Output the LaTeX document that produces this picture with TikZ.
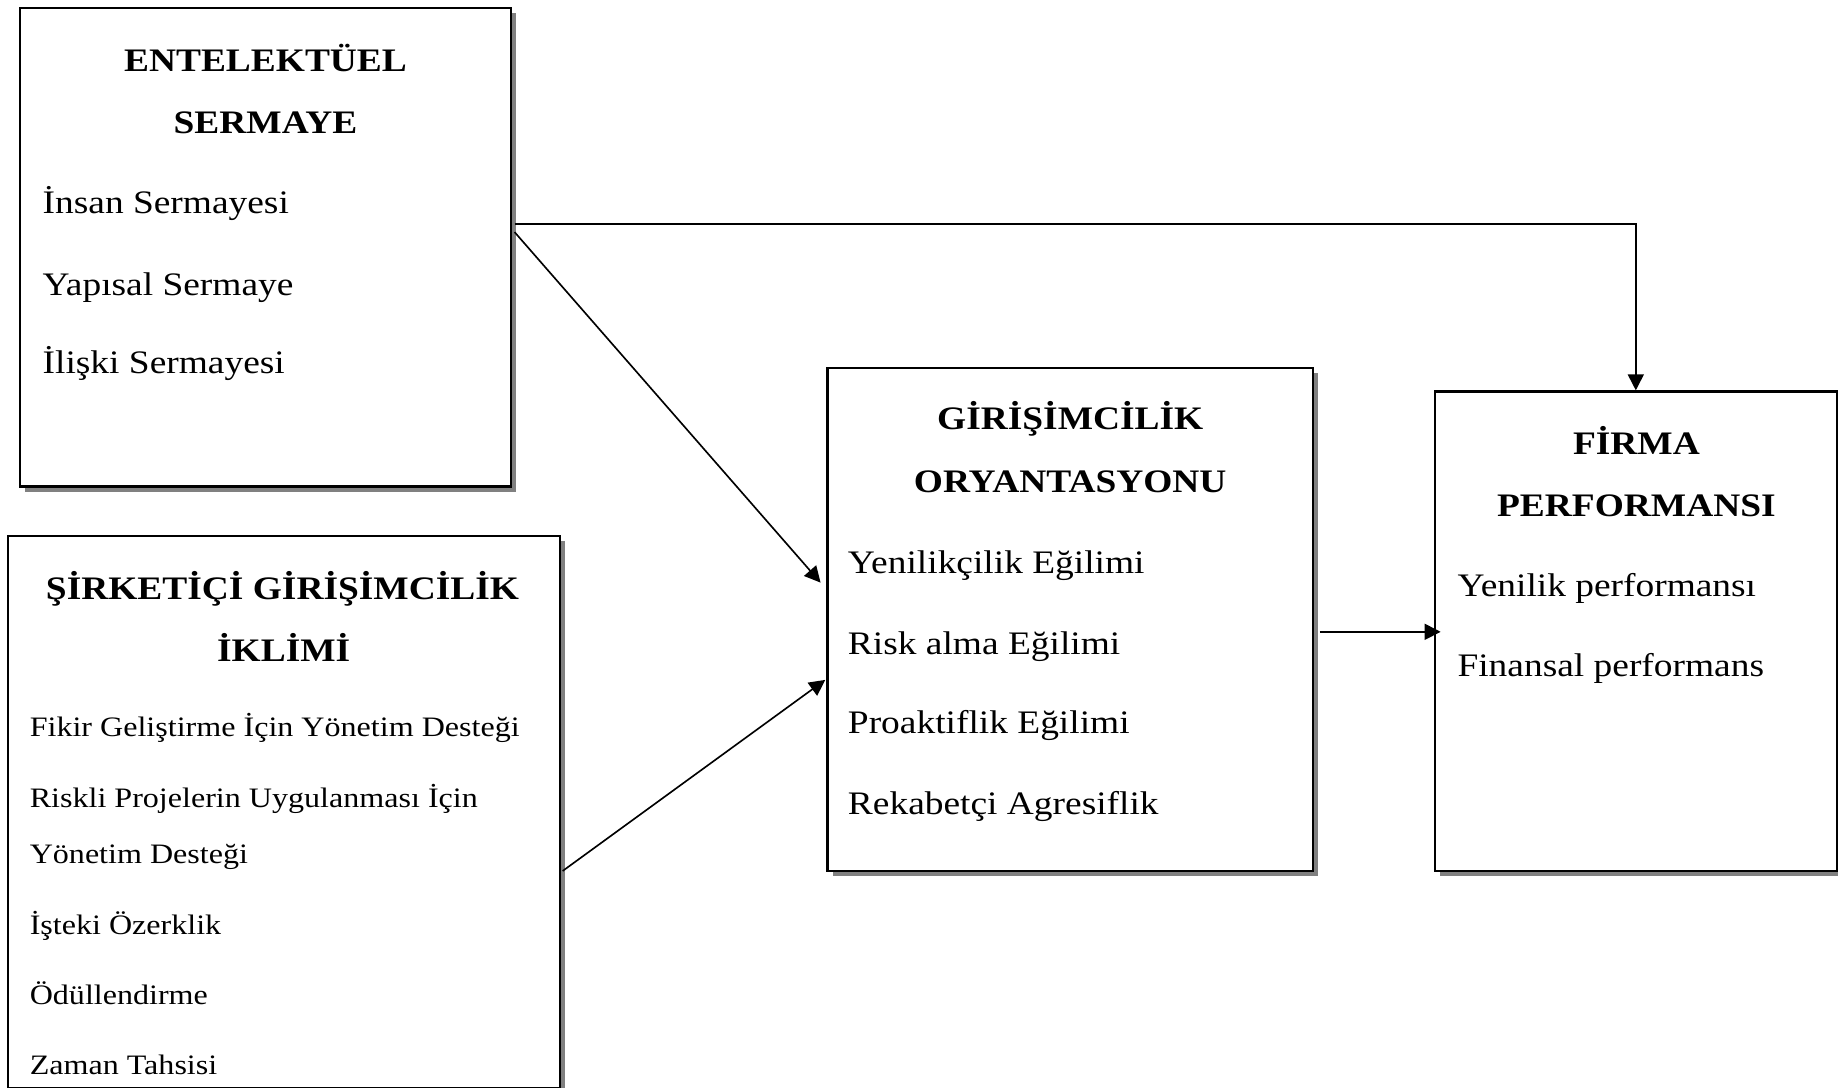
\documentclass[tikz,border=0pt]{standalone}
\usepackage{fontspec}
\setmainfont{Liberation Serif}[FakeStretch=1.14]
\usetikzlibrary{arrows.meta,shadows}
\begin{document}
\begin{tikzpicture}[x=0.5pt,y=-0.5pt,
  box/.style={draw, line width=1pt, fill=white, inner sep=0pt,
    drop shadow={shadow xshift=2.2pt, shadow yshift=-2.2pt, fill=black!50, opacity=1}},
  big/.style={inner sep=0pt, font=\fontsize{14}{16}\selectfont},
  bigb/.style={inner sep=0pt, font=\fontsize{14}{16}\selectfont\bfseries, anchor=base},
  small/.style={inner sep=0pt, font=\fontsize{12}{14}\selectfont, anchor=base west},
  item/.style={big, anchor=base west},
  arr/.style={-{Triangle[length=6.8pt,width=6.8pt]}, line width=0.7pt}]
\useasboundingbox (0,0) rectangle (1568,928);
\fill[white] (0,0) rectangle (1568,928);
\clip (0,0) rectangle (1568,928);

% boxes
\node[box, minimum width=209.5pt, minimum height=204pt] (A) at (226.5,211) {};
\node[box, minimum width=235.5pt, minimum height=235.5pt] (B) at (242.5,692.5) {};
\node[box, minimum width=207pt, minimum height=214.5pt] (C) at (913,528.5) {};
\node[box, minimum width=171.5pt, minimum height=204.5pt] (D) at (1395.5,538.5) {};

% box A text
\node[bigb] (A1) at (226.5,61) {ENTELEKTÜEL};
\node[bigb] (A2) at (226.5,114) {SERMAYE};
\node[item] (A3) at (36,182) {İnsan Sermayesi};
\node[item] (A4) at (36,252) {Yapısal Sermaye};
\node[item] (A5) at (36,319) {İlişki Sermayesi};

% box B text
\node[bigb] (B1) at (241,511) {ŞİRKETİÇİ GİRİŞİMCİLİK};
\node[bigb] (B2) at (242,564) {İKLİMİ};
\node[small] (B3) at (25,628) {Fikir Geliştirme İçin Yönetim Desteği};
\node[small] (B4) at (25,689) {Riskli Projelerin Uygulanması İçin};
\node[small] (B5) at (25,737) {Yönetim Desteği};
\node[small] (B6) at (25,797) {İşteki Özerklik};
\node[small] (B7) at (25,857) {Ödüllendirme};
\node[small] (B8) at (25,917) {Zaman Tahsisi};

% box C text
\node[bigb] (C1) at (913,366) {GİRİŞİMCİLİK};
\node[bigb] (C2) at (913,420) {ORYANTASYONU};
\node[item] (C3) at (723,489) {Yenilikçilik Eğilimi};
\node[item] (C4) at (723,558) {Risk alma Eğilimi};
\node[item] (C5) at (723,626) {Proaktiflik Eğilimi};
\node[item] (C6) at (723,695) {Rekabetçi Agresiflik};

% box D text
\node[bigb] (D1) at (1396,388) {FİRMA};
\node[bigb] (D2) at (1396,441) {PERFORMANSI};
\node[item] (D3) at (1243,509) {Yenilik performansı};
\node[item] (D4) at (1243,577) {Finansal performans};

% connector end points
\coordinate (a1) at (439,191);
\coordinate (a2) at (439,198);
\coordinate (c1) at (700,497);
\coordinate (b1) at (480,743);
\coordinate (c2) at (704,580);
\coordinate (c3) at (1126,539);
\coordinate (d1) at (1229,539);

% connectors
\draw[arr] (a1) -| (D.north);
\draw[arr] (a2) -- (c1);
\draw[arr] (b1) -- (c2);
\draw[arr] (c3) -- (d1);
\end{tikzpicture}
\end{document}
